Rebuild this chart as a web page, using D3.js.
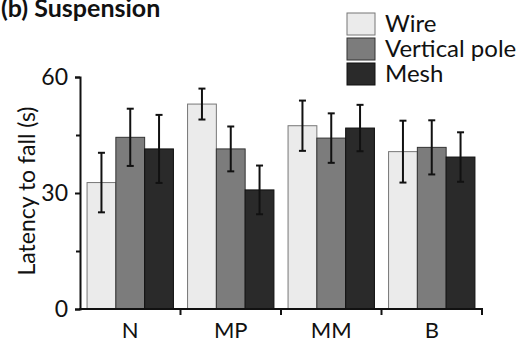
<!DOCTYPE html>
<html>
<head>
<meta charset="utf-8">
<script src="https://d3js.org/d3.v7.min.js"></script>
<style>
  body { margin: 0; background: #fff; }
  svg text { font-family: Lato, "Open Sans", sans-serif; fill: #111; }
</style>
</head>
<body>
<svg id="chart" width="528" height="343"></svg>
<script>
const groups = ["N", "MP", "MM", "B"];
const series = ["Wire", "Vertical pole", "Mesh"];
const colors = ["#ebebeb", "#7c7c7c", "#2a2a2a"];
const strokes = ["#777", "#333", "#111"];
// mean per group, for each series
const means = {
  "Wire":          [32.7, 53.0, 47.4, 40.7],
  "Vertical pole": [44.4, 41.4, 44.2, 41.8],
  "Mesh":          [41.4, 30.8, 46.8, 39.3]
};
const errs = {
  "Wire":          [7.7, 4.0, 6.5, 8.0],
  "Vertical pole": [7.4, 5.8, 6.4, 7.0],
  "Mesh":          [8.8, 6.3, 6.0, 6.4]
};
const yTicks = [0, 30, 60];
const yMinor = [15, 45];

const svg = d3.select("#chart");
const mLeft = 80, mRight = 482, mTop = 77, mBottom = 309;

const x = d3.scaleBand().domain(groups).range([mLeft, mRight]).paddingInner(0).paddingOuter(0);
const xs = d3.scaleBand().domain(series).range([0, x.bandwidth()]).paddingOuter(0.245).paddingInner(0);
const y = d3.scaleLinear().domain([0, 60]).range([mBottom, mTop]);

// bars
series.forEach((s, i) => {
  svg.append("g").selectAll("rect")
    .data(groups)
    .join("rect")
    .attr("x", g => x(g) + xs(s))
    .attr("y", (g, j) => y(means[s][j]))
    .attr("width", xs.bandwidth())
    .attr("height", (g, j) => mBottom - y(means[s][j]))
    .attr("fill", colors[i])
    .attr("stroke", strokes[i])
    .attr("stroke-width", 1);
});

// error bars
series.forEach((s, i) => {
  const eg = svg.append("g").attr("stroke", "#111").attr("stroke-width", 2);
  groups.forEach((g, j) => {
    const cx = x(g) + xs(s) + xs.bandwidth() / 2;
    const hi = y(means[s][j] + errs[s][j]);
    const lo = y(means[s][j] - errs[s][j]);
    eg.append("line").attr("x1", cx).attr("x2", cx).attr("y1", hi).attr("y2", lo);
    eg.append("line").attr("x1", cx - 3.5).attr("x2", cx + 3.5).attr("y1", hi).attr("y2", hi);
    eg.append("line").attr("x1", cx - 3.5).attr("x2", cx + 3.5).attr("y1", lo).attr("y2", lo);
  });
});

// y axis
const yAxis = svg.append("g").attr("transform", `translate(${mLeft},0)`)
  .call(d3.axisLeft(y).tickValues(yTicks).tickSize(5).tickPadding(7));
svg.append("g").attr("transform", `translate(${mLeft},0)`)
  .call(d3.axisLeft(y).tickValues(yMinor).tickSize(4).tickFormat(""))
  .select(".domain").remove();
yAxis.selectAll("text").style("font-size", "23px").attr("font-family", null);

// x axis with ticks at band edges
const xAxisG = svg.append("g").attr("transform", `translate(0,${mBottom})`);
xAxisG.append("line").attr("x1", mLeft - 1).attr("x2", mRight + 1).attr("y1", 0).attr("y2", 0)
  .attr("stroke", "#111").attr("stroke-width", 2);
xAxisG.selectAll("line.t").data(groups).join("line").attr("class", "t")
  .attr("x1", g => x(g) + x.bandwidth()).attr("x2", g => x(g) + x.bandwidth())
  .attr("y1", 0).attr("y2", 6).attr("stroke", "#111").attr("stroke-width", 2);
xAxisG.selectAll("text").data(groups).join("text")
  .attr("x", g => x(g) + x.bandwidth() / 2).attr("y", 29)
  .attr("text-anchor", "middle").style("font-size", "22px").text(g => g);

svg.selectAll(".domain, .tick line").attr("stroke", "#111").attr("stroke-width", 2);
svg.selectAll(".tick text").attr("fill", "#111");

// y label
svg.append("text")
  .attr("transform", `translate(35,${(mTop + mBottom) / 2 - 2}) rotate(-90)`)
  .attr("text-anchor", "middle").style("font-size", "23px")
  .text("Latency to fall (s)");

// title
svg.append("text").attr("x", 1).attr("y", 17)
  .style("font-size", "25px").style("font-weight", "bold").text("(b) Suspension");

// legend
const lg = svg.append("g").attr("transform", "translate(347,13)");
series.forEach((s, i) => {
  lg.append("rect").attr("x", 0).attr("y", i * 25).attr("width", 28).attr("height", 22)
    .attr("fill", colors[i]).attr("stroke", strokes[i]).attr("stroke-width", 1);
  lg.append("text").attr("x", 38).attr("y", i * 25 + 19).style("font-size", "24px").text(s);
});
</script>
</body>
</html>
